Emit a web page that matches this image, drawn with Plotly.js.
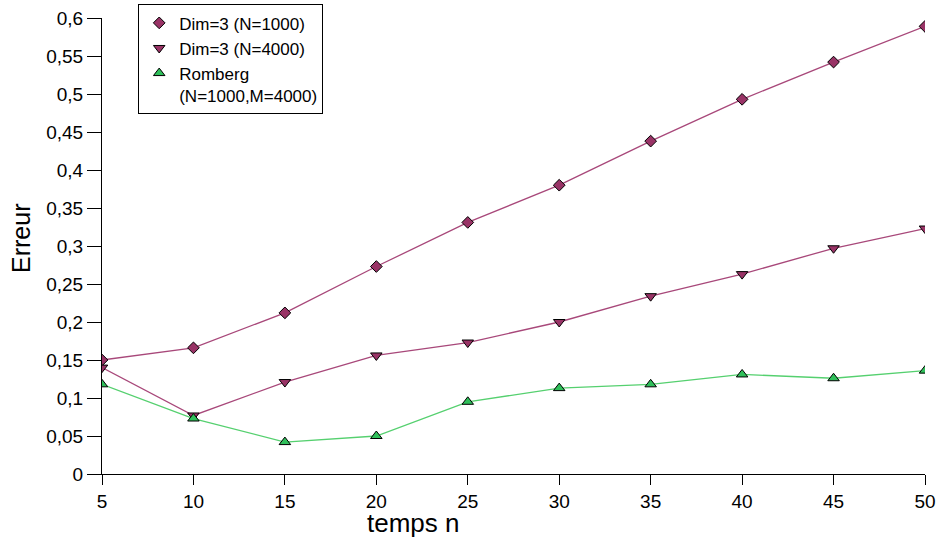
<!DOCTYPE html>
<html>
<head>
<meta charset="utf-8">
<script src="https://cdn.plot.ly/plotly-3.0.1.min.js"></script>
<style>
  html, body { margin: 0; padding: 0; background: #ffffff; }
  #chart { width: 940px; height: 538px; }
</style>
</head>
<body>
<div id="chart"></div>
<script>
// Time steps n
const tempsN = [5, 10, 15, 20, 25, 30, 35, 40, 45, 50];

// Error for each scheme
const dim3N1000 = [0.150, 0.166, 0.212, 0.273, 0.331, 0.380, 0.438, 0.493, 0.542, 0.589];
const dim3N4000 = [0.140, 0.077, 0.121, 0.156, 0.173, 0.200, 0.234, 0.263, 0.297, 0.323];
const romberg   = [0.118, 0.073, 0.042, 0.050, 0.095, 0.113, 0.118, 0.131, 0.126, 0.136];

const seriesNames = ['Dim=3 (N=1000)', 'Dim=3 (N=4000)', 'Romberg<br>(N=1000,M=4000)'];

// Y axis tick values and their comma-decimal labels
const yTickVals = [0, 0.05, 0.1, 0.15, 0.2, 0.25, 0.3, 0.35, 0.4, 0.45, 0.5, 0.55, 0.6];
const yTickText = ['0', '0,05', '0,1', '0,15', '0,2', '0,25', '0,3', '0,35', '0,4', '0,45', '0,5', '0,55', '0,6'];

const FONT = 'Liberation Sans, Arial, sans-serif';
const plum = '#993366';
const plumLine = '#a8487a';
const greenFill = '#2fbf5a';
const greenLine = '#55d06f';

const styles = [
  { line: plumLine, symbol: 'diamond', size: 9, fill: plum },
  { line: plumLine, symbol: 'triangle-down', size: 10, fill: plum },
  { line: greenLine, symbol: 'triangle-up', size: 10, fill: greenFill }
];
const seriesValues = [dim3N1000, dim3N4000, romberg];

const traces = [];
// Data lines with markers
seriesValues.forEach((vals, i) => {
  const s = styles[i];
  traces.push({
    x: tempsN, y: vals, name: seriesNames[i],
    type: 'scatter', mode: 'lines+markers', showlegend: false,
    line: { color: s.line, width: 1.3 },
    marker: { symbol: s.symbol, size: s.size, color: s.fill, line: { color: '#000000', width: 1 } }
  });
});
// Legend keys show the marker symbol only
seriesValues.forEach((vals, i) => {
  const s = styles[i];
  traces.push({
    x: [null], y: [null], name: seriesNames[i],
    type: 'scatter', mode: 'markers', showlegend: true, hoverinfo: 'skip',
    marker: { symbol: s.symbol, size: s.size, color: s.fill, line: { color: '#000000', width: 1 } }
  });
});

const layout = {
  width: 940, height: 538,
  paper_bgcolor: '#ffffff', plot_bgcolor: '#ffffff',
  margin: { l: 102, r: 15, t: 18, b: 64, autoexpand: false },
  font: { family: FONT, color: '#000000', size: 19 },
  showlegend: true,
  legend: {
    x: 0.044, y: 1.03, xanchor: 'left', yanchor: 'top',
    bgcolor: '#ffffff', bordercolor: '#000000', borderwidth: 1,
    font: { family: FONT, size: 17, color: '#000000' },
    valign: 'top', tracegroupgap: 0
  },
  xaxis: {
    range: [5, 50], tickvals: tempsN, ticktext: tempsN.map(String),
    showgrid: false, zeroline: false,
    showline: true, linecolor: '#000000', linewidth: 1,
    ticks: 'outside', ticklen: 10, tickcolor: '#000000', tickwidth: 1,
    tickfont: { family: FONT, size: 19 }, fixedrange: true
  },
  yaxis: {
    range: [0, 0.6], tickvals: yTickVals, ticktext: yTickText,
    showgrid: false, zeroline: false,
    showline: true, linecolor: '#000000', linewidth: 1,
    ticks: 'outside', ticklen: 14, tickcolor: '#000000', tickwidth: 1,
    tickfont: { family: FONT, size: 19 }, fixedrange: true
  },
  annotations: [
    {
      text: 'temps n', xref: 'paper', yref: 'paper',
      x: 0.378, y: -0.107, xanchor: 'center', yanchor: 'middle',
      showarrow: false, font: { family: FONT, size: 26, color: '#000000' }
    },
    {
      text: 'Erreur', xref: 'paper', yref: 'paper',
      x: -0.0985, y: 0.5175, xanchor: 'center', yanchor: 'middle', textangle: -90,
      showarrow: false, font: { family: FONT, size: 25, color: '#000000' }
    }
  ]
};

Plotly.newPlot('chart', traces, layout, { displayModeBar: false, staticPlot: true });
</script>
</body>
</html>
